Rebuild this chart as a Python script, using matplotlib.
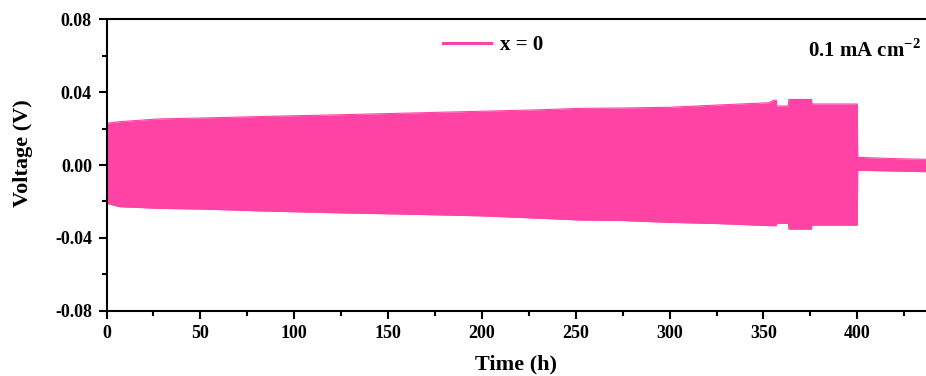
import matplotlib
matplotlib.use("Agg")
import matplotlib.pyplot as plt
from matplotlib.ticker import MultipleLocator, FormatStrFormatter

# Galvanostatic cycling envelope (upper / lower voltage limits of the dense oscillation)
time_h = [0, 7, 28, 50, 67, 85, 121, 160, 199, 230, 252, 275, 300, 327, 353,
          355.4, 356.8, 357, 363.3, 363.5, 375.6, 375.8, 400, 400.2, 420, 437]
upper_v = [0.0229, 0.0238, 0.0253, 0.0258, 0.0262, 0.0267, 0.0275, 0.0285, 0.0295, 0.0303,
           0.0311, 0.0313, 0.0317, 0.0330, 0.0342,
           0.0356, 0.0356, 0.0324, 0.0324, 0.0360, 0.0360, 0.0335, 0.0335, 0.0042, 0.0035, 0.0031]
lower_v = [-0.0210, -0.0229, -0.0238, -0.0242, -0.0247, -0.0253, -0.0262, -0.0270, -0.0279, -0.0292,
           -0.0302, -0.0305, -0.0315, -0.0322, -0.0333,
           -0.0333, -0.0333, -0.0320, -0.0320, -0.0352, -0.0352, -0.0330, -0.0330, -0.0029, -0.0033, -0.0037]

series_label = "x = 0"
current_label = r"0.1 mA cm$^{\mathbf{-2}}$"
pink = "#FF43A4"

plt.rcParams["font.family"] = "Liberation Serif"
plt.rcParams["font.weight"] = "bold"
plt.rcParams["mathtext.fontset"] = "custom"
plt.rcParams["mathtext.rm"] = "Liberation Serif"
plt.rcParams["mathtext.bf"] = "Liberation Serif:bold"

fig = plt.figure(figsize=(9.26, 3.76), dpi=100)
ax = fig.add_axes([106.5 / 926, 1 - 310.7 / 376, 1 - 106.5 / 926, (310.7 - 19.3) / 376])

ax.fill_between(time_h, lower_v, upper_v, color=pink, linewidth=0)
ax.plot(time_h, upper_v, color=pink, lw=0.8, label=series_label)
ax.plot(time_h, lower_v, color=pink, lw=0.8)

ax.set_xlim(0, 436.6)
ax.set_ylim(-0.08, 0.08)
ax.xaxis.set_major_locator(MultipleLocator(50))
ax.xaxis.set_minor_locator(MultipleLocator(25))
ax.yaxis.set_major_locator(MultipleLocator(0.04))
ax.yaxis.set_minor_locator(MultipleLocator(0.02))
ax.yaxis.set_major_formatter(FormatStrFormatter("%.2f"))

for side in ("left", "bottom", "top"):
    ax.spines[side].set_linewidth(1.5)
ax.spines["right"].set_visible(False)
ax.tick_params(which="major", direction="out", length=6, width=1.5, labelsize=13)
ax.tick_params(which="minor", direction="out", length=3.5, width=1.5)
ax.tick_params(axis="y", which="major", pad=4.5)
ax.tick_params(axis="x", which="major", pad=4.5)
for lbl in ax.get_xticklabels() + ax.get_yticklabels():
    lbl.set_fontweight("bold")

ax.set_xlabel("Time (h)", fontsize=16, fontweight="bold", labelpad=9)
ax.set_ylabel("Voltage (V)", fontsize=16, fontweight="bold")
ax.yaxis.set_label_coords((33 - 106.5) / 819.5, (310.7 - 153) / 291.4)

leg = ax.legend(loc="center left", bbox_to_anchor=(443 / 926, 1 - 45.5 / 376),
                bbox_transform=fig.transFigure, frameon=False, borderpad=0,
                borderaxespad=0, handlelength=2.3, handletextpad=0.45,
                prop={"family": "Liberation Serif", "weight": "bold", "size": 15})
leg.get_lines()[0].set_linewidth(2.2)

fig.text(921 / 926, 1 - 50 / 376, current_label, ha="right", va="center",
         fontsize=15, fontweight="bold")

fig.savefig("out.png", dpi=100)
